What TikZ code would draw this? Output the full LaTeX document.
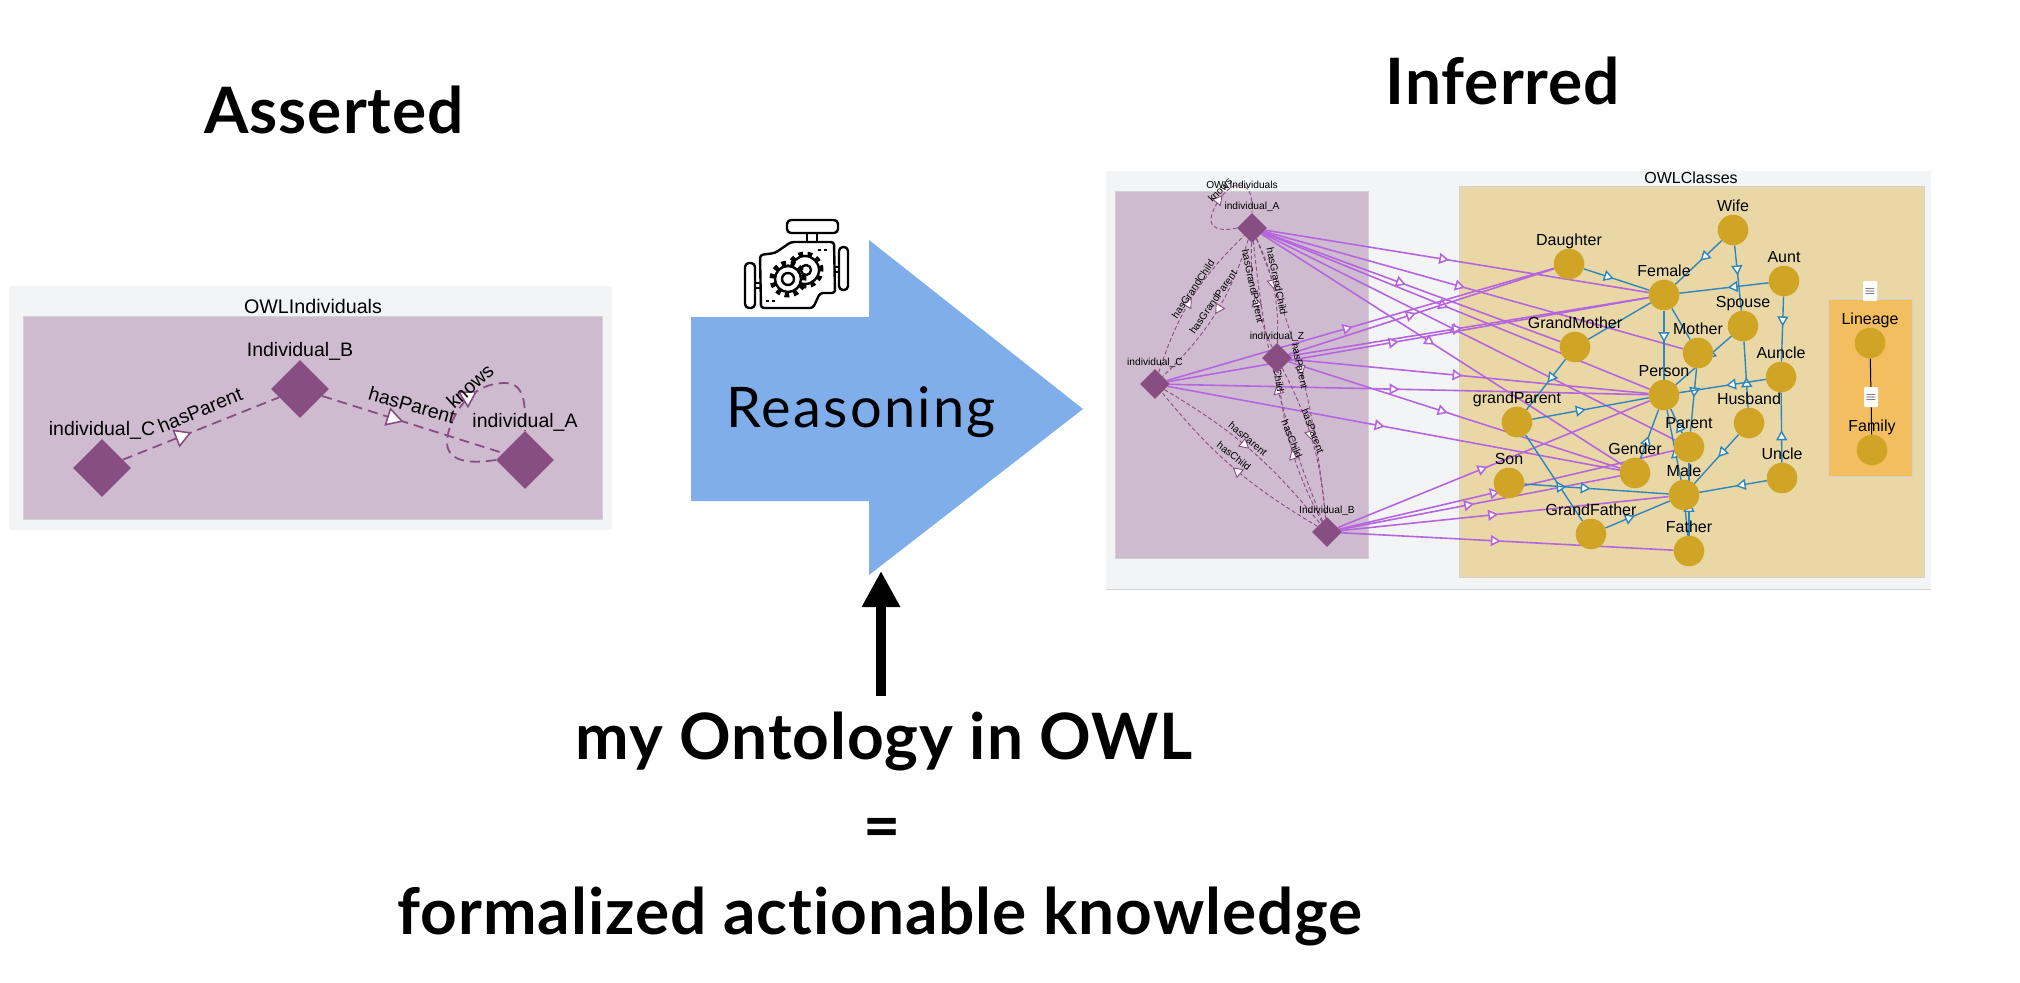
\documentclass[tikz,border=0pt]{standalone}
\usepackage{fontspec}
\setmainfont{Liberation Sans}
\newfontfamily\slidefont{Lato}[LetterSpace=1.5,Ligatures=NoCommon]
\newfontfamily\reasonfont{Lato}[LetterSpace=4]
\usetikzlibrary{arrows.meta,shapes.geometric,backgrounds,decorations.markings,positioning}

\definecolor{panelgray}{HTML}{F3F4F6}
\definecolor{panelline}{HTML}{D2D2D2}
\definecolor{indivbox}{HTML}{CFBBD0}
\definecolor{classbox}{HTML}{E9D8A6}
\definecolor{lineagebox}{HTML}{F2BE5F}
\definecolor{indivfill}{HTML}{884E82}
\definecolor{classfill}{HTML}{D0A526}
\definecolor{typeline}{HTML}{B566DE}
\definecolor{isaline}{HTML}{2E86BE}
\definecolor{reasonblue}{HTML}{7FAEEB}

\tikzset{
    smalltip/.style={postaction={decorate},decoration={markings,
        mark=at position #1 with {\arrow[solid]{Triangle[fill=white,length=10pt,width=11pt]}}}},
    bigtip/.style={postaction={decorate},decoration={markings,
        mark=at position #1 with {\arrow[solid,line width=1.6pt]{Triangle[fill=white,length=17pt,width=19pt]}}}},
    classnode/.style={circle,fill=classfill,inner sep=0pt,minimum size=30.6pt,
        label={[classlab]above:#1}},
    classlab/.style={font=\fontsize{16}{16}\selectfont,inner sep=0pt,text height=12pt,text depth=3.5pt,label distance=-0.5pt},
    indivnode/.style={diamond,fill=indivfill,inner sep=0pt,minimum size=30pt,
        label={[indivlab]above:#1}},
    indivlab/.style={font=\fontsize{10.2}{11}\selectfont,inner sep=0pt,text height=8pt,text depth=2.2pt,label distance=0.5pt},
    bigindiv/.style={diamond,fill=indivfill,inner sep=0pt,minimum size=58pt,
        label={[biglab]above:#1}},
    biglab/.style={font=\fontsize{19.5}{20}\selectfont,inner sep=0pt,text height=14pt,text depth=4pt,label distance=-1pt},
    edgelab/.style={font=\fontsize{10.2}{11}\selectfont,inner sep=0pt},
    bigedgelab/.style={font=\fontsize{19.5}{20}\selectfont,inner sep=0pt},
    slidelab/.style={font=\slidefont\bfseries\fontsize{64}{66}\selectfont,inner sep=0pt},
    typeedge/.style={color=typeline,line width=1.6pt,smalltip=0.48},
    isaedge/.style={color=isaline,line width=1.4pt,smalltip=0.46},
    isaplain/.style={color=isaline,line width=1.4pt},
    relline/.style={color=indivfill,line width=0.9pt,dash pattern=on 4pt off 2.5pt},
    bigrel/.style={color=indivfill,line width=1.8pt,dash pattern=on 10pt off 6pt},
    eqbox/.style={fill=white,rounded corners=1pt,inner sep=0pt,minimum width=14pt,minimum height=20pt,
        font=\fontsize{13}{13}\selectfont\boldmath,text=black!70},
    icon/.style={line width=2.4pt,line join=round},
}

\begin{document}
\begin{tikzpicture}[x=1pt,y=-1pt]
\useasboundingbox (0,0) rectangle (2020,982);

\node[bigindiv={individual\_C}] (bigC) at (102,468) {};
\node[bigindiv={Individual\_B}] (bigB) at (300,389) {};
\node[bigindiv={individual\_A}] (bigA) at (525,460) {};

\node[indivnode={individual\_A}] (iA) at (1252,228) {};
\node[indivnode={individual\_Z}] (iZ) at (1277,358) {};
\node[indivnode={individual\_C}] (iC) at (1155,384) {};
\node[indivnode={Individual\_B}] (iB) at (1327,532) {};

\node[classnode={Wife}] (Wife) at (1733,230) {};
\node[classnode={Daughter}] (Daughter) at (1569,264) {};
\node[classnode={Female}] (Female) at (1664,295) {};
\node[classnode={Aunt}] (Aunt) at (1784,281) {};
\node[classnode={Spouse}] (Spouse) at (1743,326) {};
\node[classnode={GrandMother}] (GrandMother) at (1575,347) {};
\node[classnode={Mother}] (Mother) at (1698,353) {};
\node[classnode={Auncle}] (Auncle) at (1781,377) {};
\node[classnode={Person}] (Person) at (1664,395) {};
\node[classnode={grandParent}] (grandParent) at (1517,422) {};
\node[classnode={Husband}] (Husband) at (1749,423) {};
\node[classnode={Parent}] (Parent) at (1689,447) {};
\node[classnode={Gender}] (Gender) at (1635,473) {};
\node[classnode={Uncle}] (Uncle) at (1782,478) {};
\node[classnode={Son}] (Son) at (1509,483) {};
\node[classnode={Male}] (Male) at (1684,495) {};
\node[classnode={GrandFather}] (GrandFather) at (1591,534) {};
\node[classnode={Father}] (Father) at (1689,551) {};
\node[classnode={Lineage}] (Lineage) at (1870,343) {};
\node[classnode={Family}] (Family) at (1872,450) {};

\node[eqbox] (eqTop) at (1870,291) {$\equiv$};
\node[eqbox] (eqMid) at (1871,397) {$\equiv$};

\node[font=\fontsize{19.7}{20}\selectfont,inner sep=0pt] (assertedTitle) at (313,306) {OWLIndividuals};
\node[font=\fontsize{10.2}{11}\selectfont,inner sep=0pt] (indivTitle) at (1242,185) {OWLIndividuals};
\node[font=\fontsize{16}{16}\selectfont,inner sep=0pt] (classTitle) at (1691,178) {OWLClasses};

\node[slidelab] (asserted) at (334,110) {Asserted};
\node[slidelab] (inferred) at (1503,81) {Inferred};
\node[slidelab] (myOntology) at (884,741) {my Ontology in OWL};
\node[slidelab] (equalsLine) at (882,833) {=};
\node[slidelab] (formalized) at (880,916) {formalized actionable knowledge};

\begin{pgfonlayer}{background}
\fill[panelgray] (9,286) rectangle (612,530);
\draw[panelline,fill=indivbox] (23,316) rectangle (602,519);
\fill[panelgray] (1106,171) rectangle (1931,589);
\draw[panelline] (1106,589) -- (1931,589);
\draw[panelline,fill=indivbox] (1115,191) rectangle (1368,558);
\draw[panelline,fill=classbox] (1459,186) rectangle (1924,577);
\draw[panelline,fill=lineagebox] (1828,299) rectangle (1912,476);

\draw[bigrel,bigtip=0.44] (bigC) -- (bigB);
\draw[bigrel,bigtip=0.45] (bigB) -- (bigA);
\draw[bigrel,bigtip=0.58] (bigA.west) .. controls (470,464) and (447,462) .. (447,442)
    .. controls (447,425) and (465,383) .. (505,383)
    .. controls (527,383) and (525,410) .. (bigA.north);
\node[bigedgelab,rotate=22] (bigLabC) at (200,410) {hasParent};
\node[bigedgelab,rotate=-16] (bigLabB) at (412,405) {hasParent};
\node[bigedgelab,rotate=42] (bigLabK) at (470,386) {knows};

\draw[typeedge] (iA) -- (Female);
\draw[typeedge] (iA) -- (GrandMother);
\draw[typeedge] (iA) -- (Mother);
\draw[typeedge] (iA) -- (Person);
\draw[typeedge] (iA) -- (Parent);
\draw[typeedge] (iA) -- (Gender);
\draw[typeedge] (iZ) -- (Daughter);
\draw[typeedge] (iZ) -- (Female);
\draw[typeedge] (iZ) -- (Person);
\draw[typeedge] (iZ) -- (Gender);
\draw[typeedge] (iC) -- (Daughter);
\draw[typeedge] (iC) -- (Female);
\draw[typeedge] (iC) -- (Person);
\draw[typeedge] (iC) -- (Gender);
\draw[typeedge] (iB) -- (Person);
\draw[typeedge] (iB) -- (Parent);
\draw[typeedge] (iB) -- (Gender);
\draw[typeedge] (iB) -- (Male);
\draw[typeedge] (iB) -- (Father);

\draw[relline,smalltip=0.5] (iC) to[bend left=14] (iA);
\draw[relline,smalltip=0.5] (iA) to[bend left=14] (iC);
\draw[relline,smalltip=0.5] (iZ) to[bend left=13] (iA);
\draw[relline,smalltip=0.5] (iA) to[bend left=13] (iZ);
\draw[relline,smalltip=0.5] (iB) to[bend left=8] (iA);
\draw[relline,smalltip=0.5] (iA) to[bend left=8] (iB);
\draw[relline,smalltip=0.5] (iB) to[bend left=11] (iZ);
\draw[relline,smalltip=0.5] (iZ) to[bend left=11] (iB);
\draw[relline,smalltip=0.5] (iC) to[bend left=10] (iB);
\draw[relline,smalltip=0.5] (iB) to[bend left=10] (iC);
\draw[relline,smalltip=0.52] (iA.west) .. controls (1225,231) and (1211,230) .. (1211,220)
    .. controls (1211,208) and (1228,183) .. (1240,185)
    .. controls (1252,187) and (1252,200) .. (iA.north);
\node[edgelab,rotate=45] (labKnows) at (1220,190) {knows};
\node[edgelab,rotate=56] (labCA) at (1193,289) {hasGrandChild};
\node[edgelab,rotate=55] (labAC) at (1213,302) {hasGrandParent};
\node[edgelab,rotate=-78] (labZA) at (1253,286) {hasGrandParent};
\node[edgelab,rotate=-78] (labAZ) at (1277,281) {hasGrandChild};
\node[edgelab,rotate=-82] (labBA) at (1278,372) {hasChild};
\node[edgelab,rotate=-78] (labAB) at (1300,366) {hasParent};
\node[edgelab,rotate=-68] (labBZ) at (1292,439) {hasChild};
\node[edgelab,rotate=-69] (labZB) at (1313,431) {hasParent};
\node[edgelab,rotate=-40] (labCB) at (1248,439) {hasParent};
\node[edgelab,rotate=-38] (labBC) at (1234,456) {hasChild};

\draw[isaedge] (Wife) -- (Female);
\draw[isaedge] (Wife) -- (Spouse);
\draw[isaedge] (Daughter) -- (Female);
\draw[isaedge] (Aunt) -- (Female);
\draw[isaplain] (GrandMother) -- (Female);
\draw[isaedge] (GrandMother) -- (grandParent);
\draw[isaedge] (Female) -- (Person);
\draw[isaplain] (Mother) -- (Female);
\draw[isaedge] (Spouse) -- (Person);
\draw[isaedge] (Mother) -- (Parent);
\draw[isaedge] (Husband) -- (Spouse);
\draw[isaedge] (Auncle) -- (Person);
\draw[isaedge] (Aunt) -- (Auncle);
\draw[isaedge] (Uncle) -- (Auncle);
\draw[isaedge] (Husband) -- (Male);
\draw[isaedge] (Uncle) -- (Male);
\draw[isaedge] (grandParent) -- (Person);
\draw[isaedge] (GrandFather) -- (grandParent);
\draw[isaedge] (Son) -- (Male);
\draw[isaedge] (GrandFather) -- (Male);
\draw[isaedge] (Gender) -- (Person);
\draw[isaedge] (Parent) -- (Person);
\draw[isaedge] (Male) -- (Person);
\draw[isaplain] (Father) -- (Male);
\draw[isaedge] (Father) -- (Parent);
\draw[black,line width=1pt] (Lineage) -- (Family);
\end{pgfonlayer}

\fill[reasonblue] (691,317) -- (869,317) -- (869,240) -- (1083,409) -- (869,575) -- (869,501) -- (691,501) -- cycle;
\node[font=\reasonfont\fontsize{56}{60}\selectfont,inner sep=0pt] (reasoning) at (861,412) {Reasoning};

\coordinate (ontoTail) at (881,696);
\coordinate (ontoTip) at (881,571);
\draw[black,line width=10pt,-{Triangle[length=36pt,width=36pt]}] (ontoTail) -- (ontoTip);

\draw[icon,rounded corners=4pt] (787,220) rectangle (838,233);
\draw[icon] (807,233) -- (807,242) (817,233) -- (817,242);
\draw[icon,rounded corners=3pt] (760,255) -- (775,253) -- (791,242) -- (834,242) -- (835,293) -- (820,293) -- (813,308) -- (761,308) -- cycle;
\draw[icon,rounded corners=4pt] (745,263) rectangle (755,308);
\draw[icon] (755,283) -- (760,283) (755,288) -- (760,288);
\draw[icon,rounded corners=4pt] (839,247) rectangle (848,290);
\draw[icon] (835,267) -- (839,267) (835,272) -- (839,272);
\draw[icon,dash pattern=on 3pt off 3pt] (818,250) -- (828,250) (766,301) -- (776,301);
\draw[icon,fill=white] (805,270) circle (14pt);
\draw[line width=5pt,dash pattern=on 4.5pt off 4.5pt] (805,270) circle (16pt);
\draw[icon] (806,270) circle (5pt);
\draw[line width=5pt,dash pattern=on 4.5pt off 4.5pt] (788,279) circle (16pt);
\draw[icon,fill=white] (788,279) circle (13pt);
\draw[icon] (788,279) circle (6pt);
\end{tikzpicture}
\end{document}
